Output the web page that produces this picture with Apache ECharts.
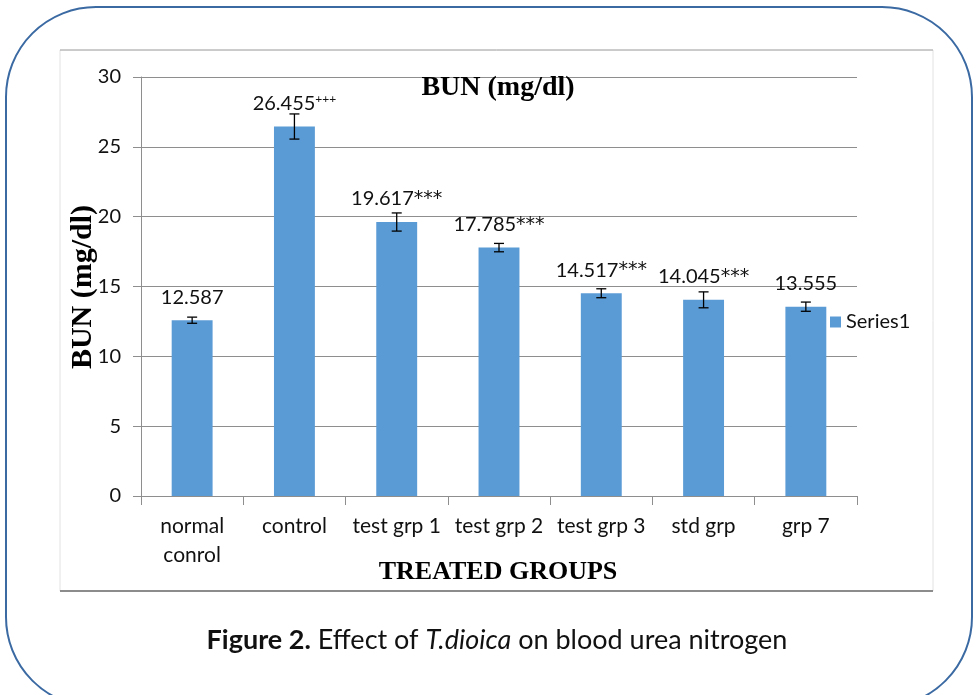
<!DOCTYPE html>
<html>
<head>
<meta charset="utf-8">
<script src="https://cdn.jsdelivr.net/npm/echarts@6/dist/echarts.min.js"></script>
<style>
  html, body { margin: 0; padding: 0; background: #fff; }
  #chart { width: 977px; height: 695px; }
</style>
</head>
<body>
<div id="chart"></div>
<script>
var groups = ['normal\nconrol', 'control', 'test grp 1', 'test grp 2', 'test grp 3', 'std grp', 'grp 7'];
var bun = [12.587, 26.455, 19.617, 17.785, 14.517, 14.045, 13.555];
var bunErr = [0.22, 0.9, 0.65, 0.3, 0.32, 0.57, 0.33];
var marks = ['', '+++', '***', '***', '***', '***', ''];
var yTicks = [0, 5, 10, 15, 20, 25, 30];

var labelFont = 'Lato';
var serif = '"Liberation Serif", "DejaVu Serif", serif';

var errData = bun.map(function(v, i) {
    return [i, v - bunErr[i], v + bunErr[i]];
});

var barData = bun.map(function(v, i) {
    return {value: v, mark: marks[i]};
});

function renderErr(params, api) {
    var lo = api.coord([api.value(0), api.value(1)]);
    var hi = api.coord([api.value(0), api.value(2)]);
    var cap = 5;
    var st = {stroke: '#000', lineWidth: 1.3};
    return {
        type: 'group',
        children: [
            {type: 'line', shape: {x1: hi[0], y1: hi[1], x2: lo[0], y2: lo[1]}, style: st},
            {type: 'line', shape: {x1: hi[0] - cap, y1: hi[1], x2: hi[0] + cap, y2: hi[1]}, style: st},
            {type: 'line', shape: {x1: lo[0] - cap, y1: lo[1], x2: lo[0] + cap, y2: lo[1]}, style: st}
        ]
    };
}

var chart = echarts.init(document.getElementById('chart'));
chart.setOption({
    animation: false,
    title: {
        text: 'BUN (mg/dl)',
        left: 493,
        top: 69,
        textAlign: 'center',
        textStyle: {fontFamily: serif, fontWeight: 'bold', fontSize: 28, color: '#000'}
    },
    legend: {
        left: 825,
        top: 307,
        itemWidth: 11,
        itemHeight: 11,
        data: [{name: 'Series1', icon: 'rect'}],
        textStyle: {fontFamily: labelFont, fontSize: 20, color: '#111', padding: [0, 0, 0, 0]}
    },
    grid: {left: 141, right: 120, top: 77, bottom: 199},
    xAxis: {
        type: 'category',
        data: groups,
        axisLine: {lineStyle: {color: '#8e8e8e', width: 1}},
        axisTick: {show: true, length: 9, lineStyle: {color: '#8e8e8e'}},
        axisLabel: {interval: 0, fontFamily: labelFont, fontSize: 21, color: '#111', margin: 16, lineHeight: 29}
    },
    yAxis: {
        type: 'value',
        min: yTicks[0],
        max: yTicks[yTicks.length - 1],
        interval: 5,
        axisLine: {show: true, lineStyle: {color: '#8e8e8e', width: 1}},
        axisTick: {show: true, length: 8, lineStyle: {color: '#8e8e8e'}},
        splitLine: {lineStyle: {color: '#8e8e8e', width: 1}},
        axisLabel: {fontFamily: labelFont, fontSize: 20, color: '#111', margin: 20}
    },
    series: [{
        name: 'Series1',
        type: 'bar',
        data: barData,
        barWidth: '40%',
        itemStyle: {color: '#5b9bd5'},
        label: {
            show: true,
            position: 'top',
            distance: 13,
            fontFamily: labelFont,
            fontSize: 20,
            color: '#111',
            formatter: function(p) {
                var m = p.data.mark;
                if (m === '+++') return p.value.toFixed(3) + '{s|+++}';
                if (m) return p.value.toFixed(3) + '{a|' + m + '}';
                return p.value.toFixed(3);
            },
            rich: {
                s: {fontFamily: labelFont, fontSize: 12, color: '#111', verticalAlign: 'top', padding: [0, 0, 8, 0]},
                a: {fontFamily: '"DejaVu Sans"', fontSize: 19, color: '#111'}
            }
        },
        z: 2
    }, {
        type: 'custom',
        data: errData,
        renderItem: renderErr,
        encode: {x: 0, y: [1, 2]},
        z: 3,
        silent: true
    }],
    graphic: [
        // outer rounded frame
        {type: 'rect', shape: {x: 6, y: 7, width: 966, height: 700, r: 90},
         style: {fill: 'none', stroke: '#3b6aa3', lineWidth: 2}, z: 0},
        // chart frame
        {type: 'rect', shape: {x: 60, y: 50, width: 873, height: 541},
         style: {fill: 'none', stroke: '#e2e2e2', lineWidth: 1}, z: 0},
        {type: 'line', shape: {x1: 60, y1: 50, x2: 933, y2: 50},
         style: {stroke: '#a6a6a6', lineWidth: 1}, z: 0},
        {type: 'line', shape: {x1: 60, y1: 591, x2: 933, y2: 591},
         style: {stroke: '#8c8c8c', lineWidth: 2}, z: 0},
        // axis titles
        {type: 'text', x: 83, y: 287, rotation: Math.PI / 2,
         style: {text: 'BUN (mg/dl)', font: 'bold 30px ' + serif, fill: '#000',
                 align: 'center', verticalAlign: 'middle'}},
        {type: 'text', x: 498, y: 572,
         style: {text: 'TREATED GROUPS', font: 'bold 26px ' + serif, fill: '#000',
                 align: 'center', verticalAlign: 'middle'}},
        {type: 'text', x: 497, y: 640,
         style: {
             text: '{b|Figure 2.} Effect of {i|T.dioica} on blood urea nitrogen',
             font: '27px Lato',
             fill: '#111',
             align: 'center',
             verticalAlign: 'middle',
             rich: {
                 b: {fontFamily: labelFont, fontWeight: 'bold', fontSize: 27, fill: '#111'},
                 i: {fontFamily: labelFont, fontStyle: 'italic', fontSize: 27, fill: '#111'}
             }
         }}
    ]
});
</script>
</body>
</html>
